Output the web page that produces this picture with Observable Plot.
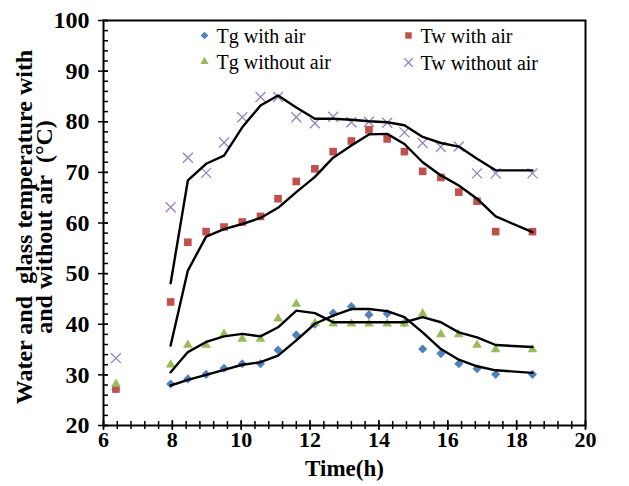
<!DOCTYPE html>
<html><head><meta charset="utf-8">
<script src="https://cdn.jsdelivr.net/npm/d3@7"></script>
<script src="https://cdn.jsdelivr.net/npm/@observablehq/plot@0.6"></script>
<style>html,body{margin:0;padding:0;background:#fff}</style>
</head><body><div id="chart"></div>
<script>
// Time (h) of each measurement
const times = [6.36, 7.95, 8.45, 8.98, 9.5, 10.03, 10.56, 11.07, 11.6, 12.14, 12.67, 13.2, 13.71, 14.24, 14.74, 15.27, 15.8, 16.32, 16.85, 17.39, 18.46];
// Measured temperatures (°C)
const tgWithAir     = [27.2, 28.2, 29.2, 30.1, 31.3, 32.2, 32.2, 34.9, 37.9, 40.0, 42.2, 43.5, 41.9, 42.1, 40.3, 35.1, 34.2, 32.2, 31.2, 30.1, 30.1];
const twWithAir     = [27.2, 44.4, 56.2, 58.3, 59.2, 60.2, 61.3, 64.8, 68.2, 70.7, 74.1, 76.2, 78.4, 76.6, 74.1, 70.2, 69.0, 66.1, 64.3, 58.3, 58.3];
const tgWithoutAir  = [28.2, 32.0, 35.9, 35.9, 38.1, 37.1, 37.1, 41.1, 44.0, 40.2, 40.1, 40.1, 40.1, 40.1, 40.1, 42.1, 38.0, 38.0, 35.9, 35.0, 35.0];
const twWithoutAir  = [33.3, 63.1, 72.9, 69.9, 75.9, 80.9, 84.9, 84.9, 80.9, 79.7, 81.0, 79.9, 80.0, 79.8, 77.9, 75.8, 75.0, 75.1, 69.8, 69.8, 69.8];
// Black curves (start at the second time)
const lineTimes = times.slice(1);
const tgWithAirLine    = [27.9, 29.0, 30.0, 31.0, 32.0, 32.5, 33.8, 36.8, 40.1, 41.7, 43.0, 43.0, 42.6, 41.4, 38.4, 35.1, 33.0, 31.7, 30.9, 30.4];
const twWithAirLine    = [35.8, 50.6, 57.3, 58.8, 59.8, 61.0, 63.0, 66.1, 69.1, 72.9, 75.3, 77.5, 77.6, 75.6, 72.0, 69.4, 67.4, 64.8, 61.3, 58.2];
const tgWithoutAirLine = [30.5, 34.5, 36.5, 37.6, 38.1, 37.6, 39.4, 42.7, 42.2, 40.4, 40.4, 40.4, 40.4, 40.4, 41.4, 40.4, 38.4, 37.4, 35.9, 35.5];
const twWithoutAirLine = [48.1, 68.4, 71.7, 73.3, 78.9, 83.2, 85.2, 82.8, 80.6, 80.6, 80.4, 80.1, 79.9, 79.3, 77.0, 75.8, 75.1, 72.7, 70.4, 70.4];

const seriesNames = ["Tg with air", "Tw with air", "Tg without air", "Tw without air"];
const xTicks = [6, 8, 10, 12, 14, 16, 18, 20];
const yTicks = [20, 30, 40, 50, 60, 70, 80, 90, 100];
const xTitle = "Time(h)";
const yTitle = "Water and\u00a0\u00a0glass temperature with\nand without air\u00a0\u00a0(°C)";

const markerValues = [tgWithAir, twWithAir, tgWithoutAir, twWithoutAir];
const lineValues = [tgWithAirLine, twWithAirLine, tgWithoutAirLine, twWithoutAirLine];

const styles = [
  {symbol: "diamond2", fill: "#4F81BD", stroke: "none", r: 4.1},
  {symbol: "square", fill: "#C0504D", stroke: "none", r: 4.3},
  {symbol: "triangle", fill: "#9BBB59", stroke: "none", r: 3.6},
  {symbol: "times", fill: "none", stroke: "#9384bf", strokeWidth: 1.3, r: 4.6}
];

const xMinor = d3.range(6, 20.001, 0.4);
const yMinor = d3.range(20, 100.001, 2);
const pxX = 14 / 482, pxY = 80 / 405; // data units per pixel

const font = "'Liberation Serif','Times New Roman',serif";
const marks = [];

// ticks
marks.push(Plot.ruleX(xMinor, {x: d => d, y1: 20 - 4 * pxY, y2: 20 + 4 * pxY, stroke: "black", strokeWidth: 1.5}));
marks.push(Plot.ruleX(xTicks, {x: d => d, y1: 20 - 5 * pxY, y2: 20 + 5 * pxY, stroke: "black", strokeWidth: 1.5}));
marks.push(Plot.ruleY(yMinor, {y: d => d, x1: 6, x2: 6 + 5 * pxX, stroke: "black", strokeWidth: 1.5}));
marks.push(Plot.ruleY(yTicks, {y: d => d, x1: 6 - 5 * pxX, x2: 6 + 5 * pxX, stroke: "black", strokeWidth: 1.5}));

// markers
seriesNames.forEach((name, i) => {
  const rows = times.map((t, j) => ({time: t, value: markerValues[i][j]}));
  marks.push(Plot.dot(rows, {x: "time", y: "value", ...styles[i]}));
});
// lines
const lineRows = seriesNames.flatMap((name, i) => lineTimes.map((t, j) => ({series: name, time: t, value: lineValues[i][j]})));
marks.push(Plot.line(lineRows, {x: "time", y: "value", z: "series", stroke: "black", strokeWidth: 2.4}));

// frame
marks.push(Plot.frame({stroke: "black", strokeWidth: 2}));

// axes
marks.push(Plot.axisX({ticks: xTicks, tickSize: 0, tickPadding: 6, fontSize: 22, fontWeight: "bold", label: null, tickFormat: d3.format("d")}));
marks.push(Plot.axisY({ticks: yTicks, tickSize: 0, tickPadding: 14, fontSize: 24, fontWeight: "bold", label: null, tickFormat: d3.format("d")}));
marks.push(Plot.text([xTitle], {frameAnchor: "bottom", dy: 43, fontSize: 23, fontWeight: "bold", lineAnchor: "middle", text: d => d}));
marks.push(Plot.text([yTitle], {frameAnchor: "left", dx: -68, dy: 4, rotate: -90, fontSize: 24, fontWeight: "bold", lineHeight: 0.85, textAnchor: "middle", lineAnchor: "middle", text: d => d}));

// legend
const legendPos = [[101, 15], [305, 15], [101, 41], [305, 42]];
seriesNames.forEach((name, i) => {
  marks.push(Plot.dot([name], {frameAnchor: "top-left", dx: legendPos[i][0], dy: legendPos[i][1], ...styles[i], r: styles[i].r * 0.85}));
  marks.push(Plot.text([name], {frameAnchor: "top-left", dx: legendPos[i][0] + 12, dy: legendPos[i][1] + 1, text: d => d, textAnchor: "start", lineAnchor: "middle", fontSize: 20}));
});

const chart = Plot.plot({
  width: 629, height: 486,
  marginLeft: 103, marginRight: 44, marginTop: 20, marginBottom: 61,
  style: {fontFamily: font, background: "#fff", color: "black"},
  x: {domain: [6, 20], axis: null},
  y: {domain: [20, 100], axis: null},
  marks
});
document.getElementById("chart").appendChild(chart);
</script>
</body></html>
